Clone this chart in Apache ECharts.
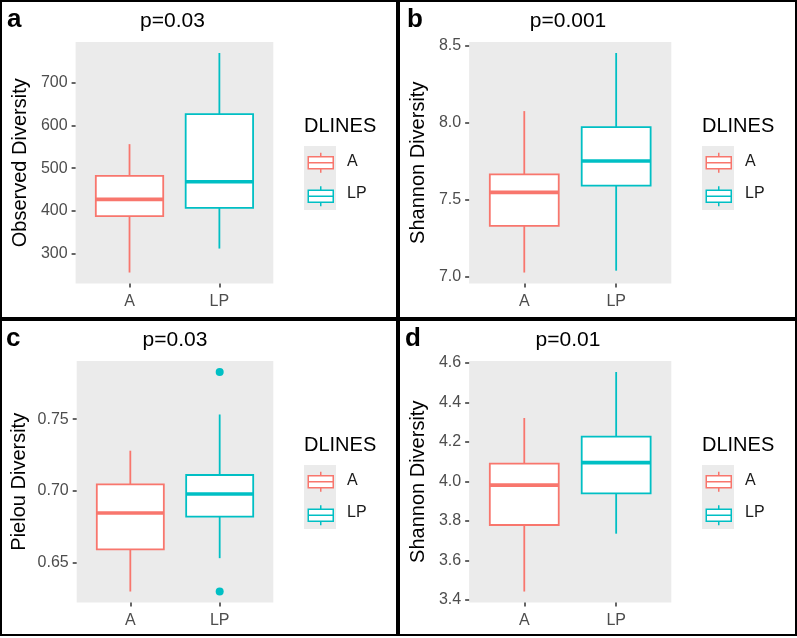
<!DOCTYPE html>
<html>
<head>
<meta charset="utf-8">
<script src="https://cdn.jsdelivr.net/npm/echarts@6/dist/echarts.min.js"></script>
<style>
  html, body { margin: 0; padding: 0; background: #fff; }
  #page { position: relative; width: 797px; height: 636px; background: #000; }
  .panel { position: absolute; background: #fff; }
</style>
</head>
<body>
<div id="page">
  <div class="panel" id="pa" style="left:2px;top:2px;width:394px;height:315px"></div>
  <div class="panel" id="pb" style="left:400px;top:2px;width:395px;height:315px"></div>
  <div class="panel" id="pc" style="left:2px;top:321px;width:394px;height:313px"></div>
  <div class="panel" id="pd" style="left:400px;top:321px;width:395px;height:313px"></div>
</div>
<script>
// groups on the x axis / legend
const groups = ['A', 'LP'];

// box stats per group: [lower whisker, Q1, median, Q3, upper whisker]
const observedStats = [[256, 388, 427, 482, 556], [312, 407, 468, 626, 769]];
const shannonStats = [[7.026, 7.328, 7.546, 7.663, 8.073], [7.038, 7.589, 7.749, 7.969, 8.45]];
const pielouStats = [[0.6296, 0.659, 0.6845, 0.7045, 0.728], [0.6529, 0.682, 0.6977, 0.711, 0.7533]];
const shannon2Stats = [[3.443, 3.78, 3.982, 4.091, 4.322], [3.736, 3.94, 4.096, 4.228, 4.555]];

// outlier points per group
const observedOutliers = [[], []];
const shannonOutliers = [[], []];
const pielouOutliers = [[], [0.783, 0.6296]];
const shannon2Outliers = [[], []];

// y tick labels
const observedTicks = [300, 400, 500, 600, 700];
const shannonTicks = [7.0, 7.5, 8.0, 8.5];
const pielouTicks = [0.65, 0.70, 0.75];
const shannon2Ticks = [3.4, 3.6, 3.8, 4.0, 4.2, 4.4, 4.6];

const pLabels = ['p=0.03', 'p=0.001', 'p=0.03', 'p=0.01'];

const colors = ['#F8766D', '#00BFC4'];
const font = 'Liberation Sans, Arial, sans-serif';
const boxWidth = 0.75;
const keyIcon = 'path://M12.5,0V4M0,4H25V16H0ZM0,10H25M12.5,16V20';

const panels = [
  { el: 'pa', letter: 'a', letterLeft: 5, p: pLabels[0], yName: 'Observed Diversity', stats: observedStats,
    outliers: observedOutliers, ticks: observedTicks, dec: 0, grid: { left: 69.7, width: 201.6 }, nameGap: 43 },
  { el: 'pb', letter: 'b', letterLeft: 7, p: pLabels[1], yName: 'Shannon Diversity', stats: shannonStats,
    outliers: shannonOutliers, ticks: shannonTicks, dec: 1, grid: { left: 64.7, width: 206.6 }, nameGap: 37 },
  { el: 'pc', letter: 'c', letterLeft: 4, p: pLabels[2], yName: 'Pielou Diversity', stats: pielouStats,
    outliers: pielouOutliers, ticks: pielouTicks, dec: 2, grid: { left: 74.7, width: 196.6 }, nameGap: 47 },
  { el: 'pd', letter: 'd', letterLeft: 5, p: pLabels[3], yName: 'Shannon Diversity', stats: shannon2Stats,
    outliers: shannon2Outliers, ticks: shannon2Ticks, dec: 1, grid: { left: 64.7, width: 206.6 }, nameGap: 37 }
];

function renderBox(color) {
  return function (params, api) {
    const x = api.value(0);
    const low = api.coord([x, api.value(1)]);
    const q1 = api.coord([x, api.value(2)]);
    const med = api.coord([x, api.value(3)]);
    const q3 = api.coord([x, api.value(4)]);
    const high = api.coord([x, api.value(5)]);
    const half = api.size([boxWidth, 0])[0] / 2;
    return {
      type: 'group',
      children: [
        { type: 'line', shape: { x1: high[0], y1: high[1], x2: q3[0], y2: q3[1] }, style: { stroke: color, lineWidth: 1.8 } },
        { type: 'line', shape: { x1: q1[0], y1: q1[1], x2: low[0], y2: low[1] }, style: { stroke: color, lineWidth: 1.8 } },
        { type: 'rect', shape: { x: q3[0] - half, y: q3[1], width: half * 2, height: q1[1] - q3[1] },
          style: { fill: '#fff', stroke: color, lineWidth: 1.8 } },
        { type: 'line', shape: { x1: med[0] - half, y1: med[1], x2: med[0] + half, y2: med[1] },
          style: { stroke: color, lineWidth: 3.6 } }
      ]
    };
  };
}

panels.forEach(function (p) {
  const chart = echarts.init(document.getElementById(p.el));
  const all = p.stats.flat().concat(p.outliers.flat());
  const lo = Math.min.apply(null, all), hi = Math.max.apply(null, all);
  const pad = (hi - lo) * 0.05;
  const center = p.grid.left + p.grid.width / 2;

  const series = groups.map(function (g, i) {
    return {
      name: g, type: 'custom', renderItem: renderBox(colors[i]),
      encode: { x: 0, y: [1, 2, 3, 4, 5] },
      data: [[i + 1].concat(p.stats[i])], z: 2
    };
  });
  groups.forEach(function (g, i) {
    if (p.outliers[i].length) {
      series.push({
        name: g, type: 'scatter', symbolSize: 8, itemStyle: { color: colors[i], opacity: 1 }, z: 3,
        data: p.outliers[i].map(function (v) { return [i + 1, v]; })
      });
    }
  });

  const option = {
    animation: false,
    textStyle: { fontFamily: font },
    title: [
      { text: p.letter, left: p.letterLeft, top: 5, padding: 0,
        textStyle: { fontSize: 26, fontWeight: 'bold', color: '#000', fontFamily: font } },
      { text: p.p, left: center, top: 9, padding: 0, textAlign: 'center',
        textStyle: { fontSize: 21, fontWeight: 'normal', color: '#000', fontFamily: font } },
      { text: 'DLINES', left: 302, top: 114, padding: 0,
        textStyle: { fontSize: 20, fontWeight: 'normal', color: '#000', fontFamily: font } }
    ],
    legend: [
      { left: 302, top: 144, orient: 'vertical', itemWidth: 32, itemHeight: 32, itemGap: 0, padding: 0,
        selectedMode: false,
        data: groups.map(function (g) { return { name: g, icon: 'rect', itemStyle: { color: '#EBEBEB', borderWidth: 0 } }; }),
        textStyle: { fontSize: 16, color: '#1A1A1A', fontFamily: font, padding: [0, 0, 0, 6] } },
      { left: 305.5, top: 150, orient: 'vertical', itemWidth: 25, itemHeight: 20, itemGap: 12, padding: 0,
        selectedMode: false,
        data: groups.map(function (g, i) {
          return { name: g, icon: keyIcon, itemStyle: { color: '#fff', borderColor: colors[i], borderWidth: 1.5 } };
        }),
        formatter: function () { return ''; } }
    ],
    grid: { left: p.grid.left, width: p.grid.width, top: 40, height: 241.5, show: true,
      backgroundColor: '#EBEBEB', borderWidth: 0 },
    xAxis: {
      type: 'value', min: 0.4, max: 2.6,
      axisLine: { show: false }, splitLine: { show: false },
      axisTick: { customValues: [1, 2], length: 4, lineStyle: { color: '#333', width: 1.5 } },
      axisLabel: { customValues: [1, 2], margin: 10, fontSize: 16, color: '#4D4D4D', fontFamily: font,
        formatter: function (v) { return groups[Math.round(v) - 1]; } }
    },
    yAxis: {
      type: 'value', min: lo - pad, max: hi + pad,
      name: p.yName, nameLocation: 'middle', nameGap: p.nameGap,
      nameTextStyle: { fontSize: 20, color: '#000', fontFamily: font },
      axisLine: { show: false }, splitLine: { show: false },
      axisTick: { customValues: p.ticks, length: 4, lineStyle: { color: '#333', width: 1.5 } },
      axisLabel: { customValues: p.ticks, margin: 8, fontSize: 16, color: '#4D4D4D', fontFamily: font,
        formatter: function (v) { return v.toFixed(p.dec); } }
    },
    series: series
  };
  chart.setOption(option);
});
</script>
</body>
</html>
